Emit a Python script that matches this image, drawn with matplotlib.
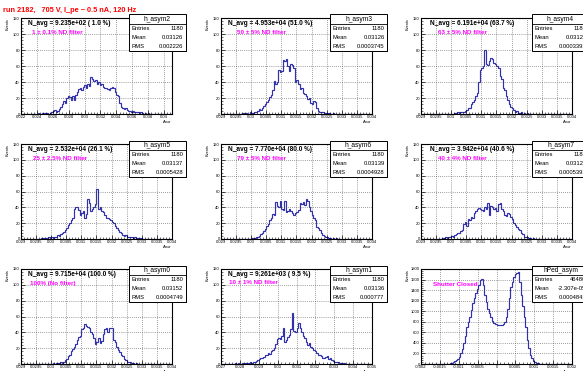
import numpy as np
import matplotlib
matplotlib.use("Agg")
import matplotlib.pyplot as plt
from matplotlib.patches import Rectangle
from matplotlib.ticker import FixedLocator, MultipleLocator

# ---------------------------------------------------------------- data
run_title = "run 2182,   705 V, I_pe ~ 0.5 nA, 120 Hz"

hist_names = ["h_asym2", "h_asym3", "h_asym4",
              "h_asym5", "h_asym6", "h_asym7",
              "h_asym0", "h_asym1", "hPed_asym"]
entries = ["1180", "1180", "1180", "1180", "1180", "1180", "1180", "1180", "46480"]
means = ["0.03126", "0.03126", "0.03126", "0.03137", "0.03139", "0.03125",
         "0.03152", "0.03136", "-2.307e-05"]
rmss = ["0.002226", "0.0003745", "0.0003393", "0.0005428", "0.0004928",
        "0.0005393", "0.0004749", "0.000777", "0.0004843"]

navg_labels = ["N_avg = 9.235e+02 ( 1.0 %)", "N_avg = 4.953e+04 (51.0 %)",
               "N_avg = 6.191e+04 (63.7 %)", "N_avg = 2.532e+04 (26.1 %)",
               "N_avg = 7.770e+04 (80.0 %)", "N_avg = 3.942e+04 (40.6 %)",
               "N_avg = 9.715e+04 (100.0 %)", "N_avg = 9.261e+03 ( 9.5 %)", ""]
filter_labels = ["1 \u00b1 0.1% ND filter", "50 \u00b1 5% ND filter",
                 "63 \u00b1 5% ND filter", "25 \u00b1 2.5% ND filter",
                 "79 \u00b1 5% ND filter", "40 \u00b1 4% ND filter",
                 "100% (No filter)", "10 \u00b1 1% ND filter", "Shutter Closed"]

x_ranges = [(0.022, 0.041), (0.029, 0.034), (0.029, 0.034),
            (0.029, 0.034), (0.029, 0.034), (0.029, 0.034),
            (0.029, 0.034), (0.027, 0.035), (-0.002, 0.002)]
x_steps = [0.002, 0.0005, 0.0005, 0.0005, 0.0005, 0.0005, 0.0005, 0.001, 0.0005]
y_max = [120, 120, 120, 120, 120, 120, 120, 120, 1800]
y_step = [20, 20, 20, 20, 20, 20, 20, 20, 200]
n_bins = 100

# bin contents (first filled bin index, then consecutive counts)
start_asym2 = 10
counts_asym2 = [0, 1, 0, 0, 1, 0, 1, 1, 0, 1,
                2, 4, 5, 3, 4, 6, 9, 12,
                16, 14, 20, 22, 21, 18, 23, 17,
                24, 28, 31, 33, 30, 34, 36, 33,
                38, 35, 46, 44, 41, 43, 38, 40,
                36, 37, 34, 32, 33, 31, 30, 33,
                34, 32, 28, 24, 22, 14, 9, 8,
                6, 7, 5, 4, 4, 3, 4, 2,
                2, 2, 1, 2, 1, 0, 1, 0, 1, 0]
start_asym3 = 14
counts_asym3 = [1, 0, 1, 0, 0, 2, 1, 1,
                3, 2, 4, 6, 5, 8, 10, 12,
                15, 17, 21, 24, 30, 41, 38, 40,
                55, 52, 54, 68, 66, 69, 60, 54,
                62, 61, 58, 40, 43, 38, 31, 32,
                26, 25, 22, 19, 20, 14, 12, 16,
                15, 8, 4, 3, 2, 3, 1, 1,
                0, 1, 0, 0, 1, 0]
start_asym4 = 22
counts_asym4 = [1, 0, 2, 1, 2, 3, 2, 4,
                5, 7, 8, 12, 15, 18, 22, 26,
                40, 55, 57, 60, 80, 63, 61, 66,
                70, 69, 64, 62, 60, 58, 47, 44,
                33, 30, 22, 18, 12, 9, 7, 5,
                3, 4, 1, 1, 2, 0, 1, 0, 1, 0]
start_asym5 = 12
counts_asym5 = [0, 1, 1, 0, 1, 1, 2, 1,
                2, 1, 3, 2, 5, 4, 6, 8,
                9, 11, 14, 18, 20, 24, 26, 38,
                40, 41, 37, 30, 33, 36, 26, 31,
                50, 45, 35, 38, 41, 44, 63, 38,
                40, 36, 34, 30, 27, 26, 25, 24,
                21, 20, 16, 14, 11, 9, 7, 5,
                4, 5, 3, 3, 2, 2, 1, 2, 1, 1, 0, 1]
start_asym6 = 20
counts_asym6 = [1, 0, 1, 2, 3, 4, 6, 8,
                10, 13, 17, 19, 24, 26, 32, 30,
                47, 42, 40, 48, 38, 37, 48, 34,
                36, 38, 35, 33, 30, 33, 34, 37,
                45, 44, 47, 43, 50, 48, 40, 35,
                30, 26, 24, 15, 14, 12, 8, 5,
                4, 2, 2, 1, 1, 0, 1, 0, 1]
start_asym7 = 14
counts_asym7 = [1, 0, 2, 1, 3, 2, 4, 3,
                5, 6, 8, 7, 10, 12, 19, 22,
                17, 25, 24, 28, 27, 33, 36, 38,
                39, 38, 37, 36, 40, 38, 45, 30,
                42, 40, 38, 39, 36, 44, 46, 38,
                35, 30, 29, 33, 31, 28, 25, 20,
                18, 15, 13, 11, 8, 6, 3, 2,
                2, 1, 1, 0, 1, 0]
start_asym0 = 20
counts_asym0 = [0, 1, 0, 1, 1, 0, 2, 1,
                3, 5, 6, 10, 12, 16, 19, 22,
                25, 30, 34, 36, 44, 45, 50, 48,
                47, 46, 40, 38, 33, 25, 28, 33,
                27, 29, 38, 44, 45, 40, 45, 46,
                45, 30, 28, 22, 18, 15, 12, 10,
                6, 5, 3, 2, 2, 1, 1, 0, 1, 0]
start_asym1 = 8
counts_asym1 = [0, 1, 0, 1, 0, 0, 1, 0,
                1, 0, 1, 2, 1, 3, 2, 4,
                5, 6, 8, 7, 9, 11, 12, 14,
                13, 16, 18, 20, 25, 31, 33, 32,
                35, 45, 28, 30, 34, 37, 44, 64,
                42, 40, 45, 52, 45, 41, 36, 33,
                28, 24, 26, 22, 20, 18, 16, 14,
                12, 11, 10, 8, 7, 9, 10, 6,
                7, 5, 4, 3, 2, 2, 1, 1, 0, 1]
start_ped = 18
counts_ped = [5, 12, 20, 35, 50, 70, 100, 140,
              200, 290, 400, 540, 700, 800, 900, 1030,
              1150, 1250, 1350, 1430, 1500, 1590, 1620, 1500,
              1300, 1180, 1050, 960, 900, 820, 780, 750,
              735, 730, 735, 745, 760, 800, 900, 1050,
              1250, 1450, 1550, 1650, 1700, 1720, 1750, 1550,
              1300, 1100, 900, 700, 450, 300, 180, 120,
              60, 40, 20, 10, 4, 1]

bin_starts = [start_asym2, start_asym3, start_asym4, start_asym5, start_asym6,
              start_asym7, start_asym0, start_asym1, start_ped]
bin_counts = [counts_asym2, counts_asym3, counts_asym4, counts_asym5, counts_asym6,
              counts_asym7, counts_asym0, counts_asym1, counts_ped]

# ---------------------------------------------------------------- layout
W, H = 583, 371
plt.rcParams["font.family"] = ["Liberation Sans", "DejaVu Sans"]

fig = plt.figure(figsize=(W / 100, H / 100), dpi=100)
fig.patch.set_facecolor("white")

col_off = [0, 200, 400]
frame_top = [18, 144, 269]
frame_bot = [114, 239, 364]
frame_l, frame_r = 21, 172
box_rel_x = [129, 130, 132]
box_w, box_h, box_title_h = 57, 36, 9.5
navg_dx = [28, 28, 30]
filter_dx = [32, 37, 38, 33, 37, 38, 30, 29, 33]
filter_dy = [15, 15, 15, 14, 14, 14, 14, 14, 16]

line_col = "#3030b0"


def fx(x):
    return x / W


def fy(y):
    return 1 - y / H


def fmt(v):
    v = round(v, 7)
    if abs(v) < 1e-12:
        return "0"
    return "%g" % v


fig.text(fx(3), fy(11), run_title, color="#ff0000", fontsize=5.3,
         fontweight="bold", ha="left", va="center")

for k in range(9):
    r, c = divmod(k, 3)
    x0 = col_off[c] + frame_l
    x1 = col_off[c] + frame_r
    y0, y1 = frame_top[r], frame_bot[r]
    ax = fig.add_axes([fx(x0), fy(y1), (x1 - x0) / W, (y1 - y0) / H])

    lo, hi = x_ranges[k]
    edges = np.linspace(lo, hi, n_bins + 1)
    full = np.zeros(n_bins)
    cnt = bin_counts[k]
    s = bin_starts[k]
    full[s:s + len(cnt)] = cnt
    ax.stairs(full, edges, color=line_col, lw=0.85)

    ax.set_xlim(lo, hi)
    ax.set_ylim(0, y_max[k])
    step = x_steps[k]
    first = np.ceil(round(lo / step, 6)) * step
    xt = np.arange(first, hi + step * 0.01, step)
    ax.xaxis.set_major_locator(FixedLocator(xt))
    ax.set_xticklabels([fmt(v) for v in xt])
    ax.xaxis.set_minor_locator(MultipleLocator(step / 5))
    ax.yaxis.set_major_locator(MultipleLocator(y_step[k]))
    ax.yaxis.set_minor_locator(MultipleLocator(y_step[k] / 5))
    ax.tick_params(which="major", direction="in", length=3, width=0.5,
                   labelsize=3.0, pad=0.8, top=False, right=False)
    ax.tick_params(which="minor", direction="in", length=1.5, width=0.4,
                   top=False, right=False)
    ax.grid(True, which="major", ls=(0, (1, 2)), color="#444444", lw=0.5)
    for sp in ax.spines.values():
        sp.set_linewidth(0.8)
        sp.set_color("black")

    # axis titles
    fig.text(fx(col_off[c] + 8), fy(y0), "Events", rotation=90, fontsize=2.8,
             ha="center", va="top")
    fig.text(fx(x1), fy(y1 + 8.5), r"A$_{\rm raw}$", fontsize=3.0,
             ha="right", va="center")

    # annotations
    if navg_labels[k]:
        fig.text(fx(col_off[c] + navg_dx[c]), fy(y0 + 5.5), navg_labels[k],
                 fontsize=4.7, fontweight="bold", color="black",
                 ha="left", va="center")
    fig.text(fx(col_off[c] + filter_dx[k]), fy(y0 + filter_dy[k]), filter_labels[k],
             fontsize=4.5, fontweight="bold", color="#ff00ff",
             ha="left", va="center")

    # statistics box
    bx0 = col_off[c] + box_rel_x[c]
    by0 = y0 - 3.5
    shadow = Rectangle((fx(bx0 + 1), fy(by0 + box_h + 1)), box_w / W, box_h / H,
                       transform=fig.transFigure, facecolor="black",
                       edgecolor="none", zorder=10)
    box = Rectangle((fx(bx0), fy(by0 + box_h)), box_w / W, box_h / H,
                    transform=fig.transFigure, facecolor="white",
                    edgecolor="black", lw=0.7, zorder=11)
    fig.add_artist(shadow)
    fig.add_artist(box)
    fig.add_artist(plt.Line2D([fx(bx0), fx(bx0 + box_w)],
                              [fy(by0 + box_title_h)] * 2,
                              transform=fig.transFigure, color="black",
                              lw=0.6, zorder=12))
    fig.text(fx(bx0 + box_w / 2), fy(by0 + box_title_h / 2 + 0.3), hist_names[k],
             fontsize=4.8, ha="center", va="center", zorder=13)
    row_h = (box_h - box_title_h) / 3
    rows = [("Entries", entries[k]), ("Mean", means[k]), ("RMS", rmss[k])]
    for j, (lab, val) in enumerate(rows):
        yy = by0 + box_title_h + row_h * (j + 0.5)
        fig.text(fx(bx0 + 2.5), fy(yy), lab, fontsize=4.2,
                 ha="left", va="center", zorder=13)
        fig.text(fx(bx0 + box_w - 2.5), fy(yy), val, fontsize=4.2,
                 ha="right", va="center", zorder=13)

fig.savefig("out.png", dpi=100, facecolor="white")
